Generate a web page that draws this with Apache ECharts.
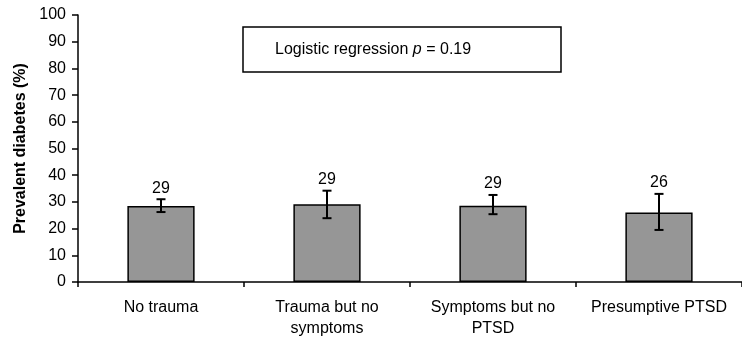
<!DOCTYPE html>
<html><head><meta charset="utf-8">
<script src="https://cdn.jsdelivr.net/npm/echarts@6/dist/echarts.min.js"></script>
<style>html,body{margin:0;padding:0;background:#fff}#c{width:742px;height:345px}</style>
</head><body><div id="c"></div>
<script>
const categories = ['No trauma', 'Trauma but no\nsymptoms', 'Symptoms but no\nPTSD', 'Presumptive PTSD'];
const prevalence = [28.5, 29.1, 28.6, 26.0];
const errLow = [26.2, 23.9, 25.4, 19.5];
const errHigh = [31.0, 34.2, 32.6, 33.0];
const valueLabels = ['29', '29', '29', '26'];
const yTicks = [0, 10, 20, 30, 40, 50, 60, 70, 80, 90, 100];

const FONT = 'Liberation Sans, Arial, sans-serif';
const chart = echarts.init(document.getElementById('c'));
const errData = categories.map((c, i) => [i, errLow[i], errHigh[i], valueLabels[i]]);

chart.setOption({
  animation: false,
  grid: { left: 78, top: 15, width: 671, bottom: 63, containLabel: false },
  xAxis: {
    type: 'category',
    data: categories,
    boundaryGap: true,
    axisLine: { lineStyle: { color: '#000', width: 1.5 } },
    axisTick: { show: true, length: 5, lineStyle: { color: '#000', width: 1.5 } },
    axisLabel: { color: '#000', fontSize: 16, fontFamily: FONT, margin: 15, lineHeight: 21, interval: 0 }
  },
  yAxis: {
    type: 'value',
    min: yTicks[0], max: yTicks[yTicks.length - 1], interval: 10,
    name: 'Prevalent diabetes (%)',
    nameLocation: 'middle',
    nameGap: 43,
    nameTextStyle: { color: '#000', fontSize: 16, fontWeight: 'bold', fontFamily: FONT },
    splitLine: { show: false },
    axisLine: { show: true, lineStyle: { color: '#000', width: 1.5 } },
    axisTick: { show: true, length: 6, lineStyle: { color: '#000', width: 1.5 } },
    axisLabel: { color: '#000', fontSize: 16, fontFamily: FONT, margin: 12 }
  },
  series: [
    {
      type: 'bar',
      data: prevalence,
      barWidth: '40.5%',
      itemStyle: { color: '#969696', borderColor: '#000', borderWidth: 1.5 }
    },
    {
      type: 'custom',
      data: errData,
      z: 10,
      renderItem: function (params, api) {
        const x = api.value(0);
        const lo = api.coord([x, api.value(1)]);
        const hi = api.coord([x, api.value(2)]);
        const cap = 4.5;
        const st = { stroke: '#000', lineWidth: 2 };
        return {
          type: 'group',
          children: [
            { type: 'line', shape: { x1: hi[0], y1: hi[1], x2: lo[0], y2: lo[1] }, style: st },
            { type: 'line', shape: { x1: hi[0] - cap, y1: hi[1], x2: hi[0] + cap, y2: hi[1] }, style: st },
            { type: 'line', shape: { x1: lo[0] - cap, y1: lo[1], x2: lo[0] + cap, y2: lo[1] }, style: st },
            { type: 'text', style: { text: api.value(3), x: hi[0], y: hi[1] - 3, textAlign: 'center', textVerticalAlign: 'bottom', fill: '#000', fontSize: 16, fontFamily: FONT } }
          ]
        };
      }
    }
  ],
  graphic: [
    { type: 'rect', shape: { x: 243, y: 27, width: 318, height: 45 }, style: { fill: '#fff', stroke: '#000', lineWidth: 1.5 }, z: 20 },
    { type: 'text', x: 275, y: 49.5, z: 21, style: {
        text: '{n|Logistic regression }{i|p}{n| = 0.19}',
        textVerticalAlign: 'middle',
        rich: {
          n: { fontSize: 16, fontFamily: FONT, fill: '#000', color: '#000' },
          i: { fontSize: 16, fontFamily: FONT, fontStyle: 'italic', fill: '#000', color: '#000' }
        }
      } }
  ]
});
</script>
</body></html>
